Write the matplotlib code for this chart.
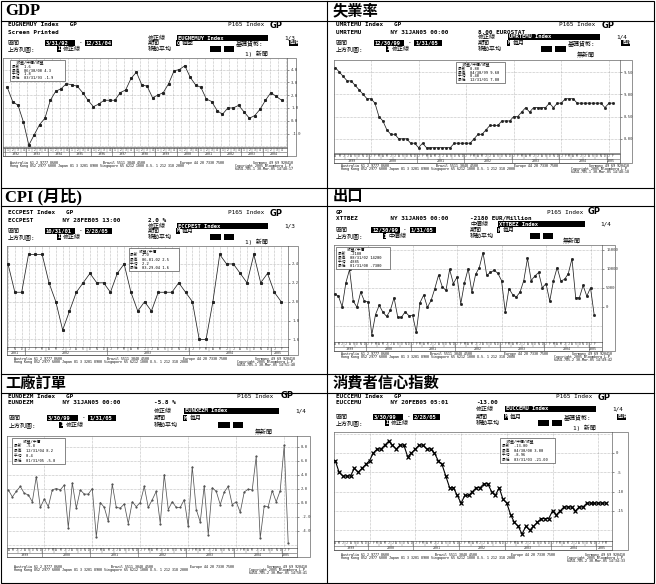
import numpy as np
import matplotlib
matplotlib.use("Agg")
import matplotlib.pyplot as plt
from matplotlib.patches import Rectangle

# ---------------- data ----------------
titles = ["GDP", "失業率", "CPI (月比)", "出口", "工廠訂單", "消費者信心指數"]

gdp_start_year = 1992
gdp_values = [2.6, 1.5, 1.2, -0.1, -1.9, -1.1, -0.3, 0.2, 1.6, 2.3, 2.5, 2.9, 2.8, 2.7, 2.2, 1.6,
              1.1, 1.3, 1.6, 1.6, 1.6, 2.2, 2.4, 3.3, 3.8, 2.8, 2.7, 1.8, 2.0, 2.2, 2.9, 3.9,
              4.0, 4.3, 3.4, 2.8, 2.6, 1.7, 1.5, 0.8, 0.5, 1.0, 1.0, 1.2, 0.7, 0.2, 0.4, 0.9,
              1.6, 2.2, 1.9, 1.6]
gdp_ticks = [-1.0, 0.0, 1.0, 2.0, 3.0, 4.0]

unemp_start = (1999, 4)
unemp_values = [9.6, 9.5, 9.4, 9.3, 9.3, 9.2, 9.1, 9.0, 8.9, 8.9,
                8.8, 8.5, 8.4, 8.2, 8.1, 8.1, 8.0, 8.0, 8.0, 7.9,
                7.9, 7.8, 7.9, 7.8, 7.8, 7.8, 7.8, 7.8, 7.8, 7.8,
                7.9, 7.9, 7.9, 7.9, 7.9, 8.0, 8.1, 8.1, 8.2, 8.3,
                8.3, 8.3, 8.4, 8.4, 8.4, 8.5, 8.5, 8.6, 8.7, 8.6,
                8.7, 8.7, 8.7, 8.7, 8.8, 8.7, 8.8, 8.8, 8.9, 8.9,
                8.9, 8.8, 8.8, 8.8, 8.8, 8.8, 8.8, 8.8, 8.7, 8.8, 8.8]
unemp_ticks = [8.0, 8.5, 9.0, 9.5]

cpi_start = (2001, 10)
cpi_values = [2.4, 2.1, 2.1, 2.5, 2.5, 2.5, 2.2, 2.0, 1.7, 1.9,
              2.1, 2.2, 2.3, 2.2, 2.2, 2.1, 2.3, 2.4, 2.1, 1.9,
              2.0, 1.9, 2.1, 2.1, 2.1, 2.2, 2.1, 2.0, 1.6, 1.6,
              2.0, 2.5, 2.4, 2.4, 2.3, 2.2, 2.5, 2.2, 2.3, 2.1, 2.0]
cpi_ticks = [1.6, 1.8, 2.0, 2.2, 2.4]

export_start = (1999, 4)
export_values = [3400, 2800, 0, 6300, 9800, 1500, -100, 3900, 1500, 1300,
                 -7300, -2000, 400, -1400, -2500, -900, 2400, -2700, -2700, -1300,
                 -2300, -2200, -6600, 1100, 3100, -100, 1700, 4800, 8300, 5300,
                 4300, 9800, 6100, 7800, 800, 6300, 10000, 3900, 8500, 10300,
                 14200, 8300, 9000, 9600, 8800, 6900, -1300, 4800, 3200, 2600,
                 3900, 6900, 12700, 6900, 8100, 9000, 5000, 6100, 1500, 6800,
                 10300, 6800, 7200, 8700, 12600, 2400, 2400, 5600, 2800, 5000, -2180]
export_ticks = [0, 5000, 10000, 15000]

orders_start = (1999, 4)
orders_values = [1.8, 0.8, 1.6, 2.3, 1.3, 1.1, 0.1, 3.7, -0.7, 0.5,
                 -0.6, 1.8, 2.0, 1.8, 2.5, -3.6, 2.8, -0.8, 1.8, 1.2,
                 1.2, 2.0, -4.9, 0.0, -0.7, -2.7, 2.6, -0.7, -0.8, -0.2,
                 -3.0, 0.1, -0.6, 0.0, 2.3, -0.7, 0.4, 1.6, -3.0, 4.0,
                 -1.0, 0.1, -0.7, -0.7, 0.4, -3.4, 5.1, -1.0, -2.8, 2.4,
                 -4.6, 2.1, 1.6, -0.3, 1.5, 2.3, -0.3, 0.1, -1.4, 1.5,
                 1.9, 1.8, 6.6, -5.1, -0.5, -0.6, 1.7, 0.1, 1.7, 8.2, -5.8]
orders_ticks = [-4.0, -2.0, 0.0, 2.0, 4.0, 6.0, 8.0]

conf_start = (1999, 4)
conf_values = [-2, -5, -6, -6, -6, -4, -5, -4, -3, -2,
               0, 1, 1, 2, 3, 2, 1, 2, 2, -1,
               0, 1, 2, 2, 1, 1, 0, -2, -3, -6,
               -9, -9, -11, -13, -11, -11, -10, -9, -9, -8,
               -8, -10, -11, -9, -12, -13, -16, -18, -19, -21,
               -19, -20, -19, -18, -17, -17, -17, -15, -16, -15,
               -14, -14, -14, -15, -14, -14, -13, -13, -13, -13, -13, -13]
conf_ticks = [-15, -10, -5, 0]

# ---------------- figure ----------------
W, H = 656, 584
fig = plt.figure(figsize=(W / 100, H / 100), dpi=100)
canvas = fig.add_axes([0, 0, 1, 1])
canvas.set_xlim(0, W)
canvas.set_ylim(H, 0)
canvas.axis('off')

MONO = ['DejaVu Sans Mono', 'Noto Sans CJK TC']
TITLE = ['Liberation Serif', 'Noto Sans CJK TC']


def px_axes(x0, y0, x1, y1, **kw):
    return fig.add_axes([x0 / W, 1 - y1 / H, (x1 - x0) / W, (y1 - y0) / H], **kw)


def txt(ax, x, y, s, size=4.3, ha='left', color='black', weight='normal', family=None):
    ax.text(x, y, s, fontsize=size, ha=ha, va='center', color=color,
            fontweight=weight, family=family or MONO)


def box(x0, x1, y, s='', h=6.0):
    canvas.add_patch(Rectangle((x0, y - h / 2), x1 - x0, h, facecolor='black', lw=0))
    if s:
        txt(canvas, x0 + 1, y, s, size=4.0, color='white', weight='bold')


# table lines
for yy in [21, 188, 206, 374, 393]:
    canvas.plot([1, 654], [yy, yy], color='black', lw=0.8)
canvas.add_patch(Rectangle((1, 1), 653, 582, fill=False, edgecolor='black', lw=0.8))
canvas.plot([327, 327], [1, 583], color='black', lw=0.8)

title_pos = [(5, 11), (333, 11), (5, 197), (333, 197), (5, 383), (333, 383)]
for (tx, ty), tt in zip(title_pos, titles):
    canvas.text(tx, ty, tt, fontsize=12 if tt.startswith(('G', 'C')) else 11,
                fontweight='bold', family=TITLE, va='center', ha='left')


def month_series(start, n):
    y0, m0 = start
    months = [(m0 - 1 + i) % 12 for i in range(n)]
    years = [y0 + (m0 - 1 + i) // 12 for i in range(n)]
    return months, years


def year_groups(years):
    groups = []
    for i, yv in enumerate(years):
        if not groups or groups[-1][2] != yv:
            groups.append([i, i, yv])
        else:
            groups[-1][1] = i
    return groups


panels = [
    dict(ox=0, s=1.0, rows=(25, 32, 38, 43, 49, 54),
         line1="EUGNEMUY Index   GP", line2="Screen Printed", mid2="",
         fix="修正線", bar="EUGNEMUY Index", page="1/3", dates=("3/31/92", "12/31/04"),
         period=("Q", "每季"), base="EUR", upper=("I", "修正線"), news="1) 新聞",
         axis=(3, 58, 287, 147), strip=(148, 156), outer=296, foot=163,
         legend=(10, 60, 65, 81),
         leg=["  收盤/中價/收盤", "最新  1.6", "最高  06/30/00 4.3", "平均  1.8", "最低  03/31/93 -1.9"],
         serial="6454-785-1 30-Mar-05 14:48:17"),
    dict(ox=328, s=1.015, rows=(25, 32, 37, 43, 49, 55),
         line1="UMRTEMU Index   GP", line2="UMRTEMU        NY 31JAN05 00:00", mid2="8.00 EUROSTAT",
         fix="修正線", bar="UMRTEMU Index", page="1/4", dates=("12/30/99", "1/31/05"),
         period=("M", "每月"), base="EUR", upper=("I", "修正線"), news="無新聞",
         axis=(334, 60, 620, 153), strip=(154, 163), outer=632, foot=166,
         legend=(456, 62, 505, 83),
         leg=["  收盤/中價/收盤", "最新  8.80", "最高  04/30/99 9.60", "平均  8.40", "最低  12/31/01 7.80"],
         serial="6454-785-1 30-Mar-05 14:48:18"),
    dict(ox=0, s=1.0, rows=(213, 220, 226, 231, 237, 242),
         line1="ECCPEST Index   GP", line2="ECCPEST        NY 28FEB05 13:00", mid2="2.0 %",
         fix="修正線", bar="ECCPEST Index", page="1/3", dates=("10/31/01", "2/28/05"),
         period=("M", "每月"), base=None, upper=("I", "修正線"), news="1) 新聞",
         axis=(7, 246, 288, 347), strip=(347, 355), outer=298, foot=359,
         legend=(129, 248, 179, 271),
         leg=["    收盤/中價", "最新  2.0", "最高  06-01-02 2.5", "平均  2.2", "最低  03-29-04 1.6"],
         serial="6454-785-1 30-Mar-05 14:51:48"),
    dict(ox=328, s=0.96, rows=(212, 218, 224, 230, 236, 241),
         line1="GP", line2="XTTBEZ         NY 31JAN05 00:00", mid2="-2180 EUR/Million",
         fix="中價線", bar="XTTBEZ Index", page="1/4", dates=("12/30/99", "1/31/05"),
         period=("M", "每月"), base=None, upper=("I", "中價線"), news="無新聞",
         axis=(334, 245, 602, 342), strip=(342, 351), outer=615, foot=354,
         legend=(336, 247, 390, 269),
         leg=["    收盤/中價", "最新  -2180", "最高  08/31/02 14200", "平均  4885", "最低  01/31/00 -7300"],
         serial="6454-785-2 30-Mar-05 14:49:42"),
    dict(ox=0, s=1.04, rows=(396, 403, 411, 418, 425, 432),
         line1="EUNDEZM Index   GP", line2="EUNDEZM        NY 31JAN05 00:00", mid2="-5.8 %",
         fix="修正線", bar="EUNDEZM Index", page="1/4", dates=("3/30/99", "1/31/05"),
         period=("M", "每月"), base=None, upper=("I", "修正線"), news="無新聞",
         axis=(7, 436, 297, 548), strip=(548, 557), outer=310, foot=567,
         legend=(12, 438, 65, 464),
         leg=["    收盤/中價", "最新  -5.8", "最高  12/31/04 8.2", "平均  0.4", "最低  01/31/05 -5.8"],
         serial="6454-785-2 30-Mar-05 14:50:41"),
    dict(ox=328, s=1.0, rows=(397, 403, 409, 417, 423, 428),
         line1="EUCCEMU Index   GP", line2="EUCCEMU        NY 20FEB05 05:01", mid2="-13.00",
         fix="修正線", bar="EUCCEMU Index", page="1/4", dates=("3/30/99", "2/28/05"),
         period=("M", "每月"), base="EUR", upper=("I", "修正線"), news="1) 新聞",
         axis=(334, 432, 612, 541), strip=(541, 550), outer=628, foot=555,
         legend=(500, 438, 555, 463),
         leg=["  收盤/中價/收盤", "最新  -13.00", "最高  04/30/00 3.00", "平均  -8.96", "最低  03/31/03 -21.00"],
         serial="6454-785-2 30-Mar-05 14:34:33"),
]

series = [
    dict(values=gdp_values, kind='q', start=(gdp_start_year, 1), ticks=gdp_ticks, fmt="{:.1f}",
         ylim=(-2.05, 4.9), hgrid=[-2, -1, 0, 1, 2, 3, 4], xlim=(-0.8, 52.0),
         style=dict(color='#222', lw=0.55, marker='s', ms=1.2)),
    dict(values=unemp_values, kind='m', start=unemp_start, ticks=unemp_ticks, fmt="{:.2f}",
         ylim=(7.68, 9.77), hgrid=unemp_ticks, xlim=(-0.33, 71.8),
         style=dict(color='#222', lw=0.55, marker='s', ms=1.0)),
    dict(values=cpi_values, kind='m', start=cpi_start, ticks=cpi_ticks, fmt="{:.1f}",
         ylim=(1.52, 2.59), hgrid=cpi_ticks, xlim=(-0.15, 41.0),
         style=dict(color='#222', lw=0.55, marker='s', ms=1.2)),
    dict(values=export_values, kind='m', start=export_start, ticks=export_ticks, fmt="{:.0f}",
         ylim=(-9200, 16200), hgrid=[-5000, 0, 5000, 10000, 15000], xlim=(-0.2, 72.1),
         style=dict(color='#222', lw=0.55, marker='s', ms=1.0)),
    dict(values=orders_values, kind='m', start=orders_start, ticks=orders_ticks, fmt="{:.1f}",
         ylim=(-6.5, 9.5), hgrid=[-6, -4, -2, 0, 2, 4, 6, 8], xlim=(-0.33, 72.2),
         style=dict(color='#555', lw=0.55, marker='s', ms=0.6)),
    dict(values=conf_values, kind='m', start=conf_start, ticks=conf_ticks, fmt="{:.0f}",
         ylim=(-22.8, 5.4), hgrid=[5, 0, -5, -10, -15, -20], xlim=(-0.33, 72.6),
         style=dict(color='black', lw=0.8, marker='x', ms=2.6, mew=0.9)),
]

MONTH_LETTERS = "JFMAMJJASOND"
legend_jobs = []

for p, sr in zip(panels, series):
    ox, s = p['ox'], p['s']

    def X(r):
        return ox + r * s

    y1, y2, y3, y4, y5, y6 = p['rows']
    # header
    txt(canvas, X(8), y1, p['line1'], weight='bold')
    txt(canvas, X(228), y1, "P165 Index", size=4.3)
    canvas.text(X(270), y1, "GP", fontsize=6, fontweight='bold', family='DejaVu Sans',
                va='center', ha='left')
    txt(canvas, X(8), y2, p['line2'], weight='bold')
    if p['mid2']:
        txt(canvas, X(148), y2, p['mid2'], weight='bold')
    txt(canvas, X(148), y3, p['fix'])
    box(X(177), X(268), y3, p['bar'])
    txt(canvas, X(284), y3, p['page'])
    txt(canvas, X(8), y4, "區間")
    box(X(45), X(75), y4, p['dates'][0])
    txt(canvas, X(78.5), y4, "-")
    box(X(85), X(112), y4, p['dates'][1])
    txt(canvas, X(148), y4, "期間")
    box(X(176), X(179.5), y4, p['period'][0])
    txt(canvas, X(182), y4, p['period'][1])
    if p['base']:
        txt(canvas, X(236), y4, "基礎貨幣:")
        box(X(289), X(298), y4, p['base'])
    txt(canvas, X(8), y5, "上方列圖:")
    box(X(57), X(60.5), y5, p['upper'][0])
    txt(canvas, X(63), y5, p['upper'][1])
    txt(canvas, X(148), y5, "移動平均")
    box(X(210), X(221), y5)
    box(X(224), X(234), y5)
    txt(canvas, X(245), y6, p['news'])

    # chart
    ax0, ay0, ax1, ay1 = p['axis']
    st0, st1 = p['strip']
    canvas.add_patch(Rectangle((ax0, ay0), p['outer'] - ax0, st1 - ay0, fill=False,
                               edgecolor='#666', lw=0.5))
    ax = px_axes(ax0, ay0, ax1, ay1)
    vals = sr['values']
    n = len(vals)
    idx = np.arange(n)

    if sr['kind'] == 'q':
        periods = [i % 4 for i in range(n)]
        years = [sr['start'][0] + i // 4 for i in range(n)]
        top_labels = [str(q + 1) for q in periods]
        vgrid = np.arange(0.75, n, 1.5)
    else:
        periods, years = month_series(sr['start'], n)
        top_labels = [MONTH_LETTERS[m] for m in periods]
        vgrid = None
    groups = year_groups(years)
    if vgrid is None:
        if sr['values'] is cpi_values:
            vgrid = idx
        else:
            vgrid = [g[0] for g in groups[1:]]

    for gv in sr['hgrid']:
        ax.axhline(gv, color='#888', lw=0.4, ls=(0, (1, 1.5)), zorder=1)
    for gx in vgrid:
        ax.axvline(gx, color='#888', lw=0.4, ls=(0, (1, 1.5)), zorder=1)
    ax.plot(idx, vals, zorder=3, **sr['style'])
    ax.set_xlim(*sr['xlim'])
    ax.set_ylim(*sr['ylim'])
    ax.set_xticks([])
    ax.yaxis.tick_right()
    ax.set_yticks(sr['ticks'])
    ax.set_yticklabels([sr['fmt'].format(v) for v in sr['ticks']], fontsize=2.8, family=MONO)
    ax.tick_params(axis='y', length=1.5, width=0.4, pad=1.5, colors='#333')
    for sp in ax.spines.values():
        sp.set_linewidth(0.5)
        sp.set_color('#666')

    # strip of periods and years
    sax = px_axes(ax0, st0, ax1, st1)
    sax.set_xlim(*sr['xlim'])
    sax.set_ylim(2, 0)
    sax.set_xticks([])
    sax.set_yticks([])
    for sp in sax.spines.values():
        sp.set_linewidth(0.5)
        sp.set_color('#555')
    sax.axhline(1, color='#555', lw=0.4)
    step = 1 if sr['kind'] == 'q' else 3
    for i in range(0, n, step):
        sax.plot([i - 0.5, i - 0.5], [0, 1], color='#777', lw=0.3)
    for i, lab in enumerate(top_labels):
        sax.text(i, 0.5, lab, fontsize=2.2, ha='center', va='center', family=MONO, color='#333')
    for g in groups:
        sax.plot([g[0] - 0.5, g[0] - 0.5], [0, 2], color='#555', lw=0.4)
        sax.text((g[0] + g[1]) / 2, 1.5, str(g[2]), fontsize=2.4, ha='center', va='center',
                 family=MONO, color='#333')

    # footer
    fx0, fx1 = ax0 + 7, p['outer'] - 3
    fw = fx1 - fx0
    fy = p['foot']
    fs = 2.35
    for xx, ss in [(fx0, "Australia 61 2 9777 8600"), (fx0 + 0.33 * fw, "Brazil 5511 3048 4500"),
                   (fx0 + 0.6 * fw, "Europe 44 20 7330 7500")]:
        txt(canvas, xx, fy, ss, size=fs)
    txt(canvas, fx1, fy, "Germany 49 69 920410", size=fs, ha='right')
    txt(canvas, fx0, fy + 3, "Hong Kong 852 2977 6000 Japan 81 3 3201 8900 Singapore 65 6212 1000 U.S. 1 212 318 2000",
        size=fs)
    txt(canvas, fx1, fy + 3, "Copyright 2005 Bloomberg L.P.", size=fs, ha='right')
    txt(canvas, fx1, fy + 6, p['serial'], size=fs, ha='right')

    legend_jobs.append((p['legend'], p['leg']))

# legend boxes drawn on top
overlay = fig.add_axes([0, 0, 1, 1], zorder=10)
overlay.set_xlim(0, W)
overlay.set_ylim(H, 0)
overlay.axis('off')
overlay.patch.set_alpha(0)
for (lx0, ly0, lx1, ly1), lines in legend_jobs:
    overlay.add_patch(Rectangle((lx0, ly0), lx1 - lx0, ly1 - ly0, facecolor='white',
                                edgecolor='#555', lw=0.5))
    dy = (ly1 - ly0) / (len(lines) + 0.3)
    for k, line in enumerate(lines):
        txt(overlay, lx0 + 1.5, ly0 + dy * (k + 0.65), line, size=2.7)

fig.savefig("out.png", dpi=100)
